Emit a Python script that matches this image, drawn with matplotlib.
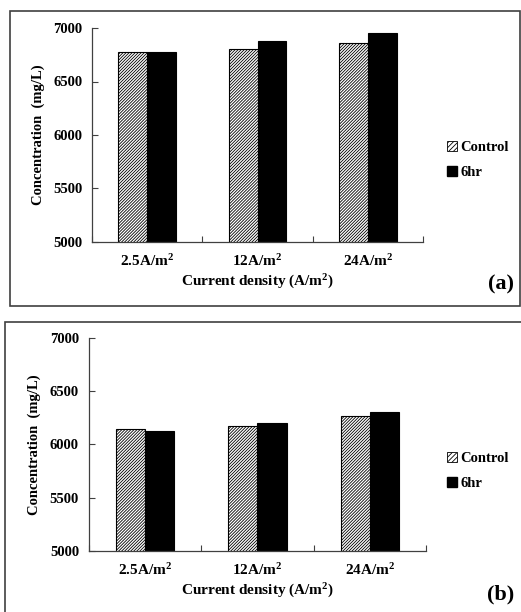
import matplotlib
matplotlib.use("Agg")
import matplotlib.pyplot as plt
from matplotlib.patches import Rectangle, Patch
import numpy as np

categories = ["2.5A/m$^\\mathbf{2}$", "12A/m$^\\mathbf{2}$", "24A/m$^\\mathbf{2}$"]
control_a = [6772, 6800, 6857]
hr6_a = [6772, 6876, 6950]
control_b = [6145, 6175, 6268]
hr6_b = [6125, 6196, 6300]
series_names = ["Control", "6hr"]
yticks = [5000, 5500, 6000, 6500, 7000]

plt.rcParams['font.family'] = ['Liberation Serif', 'DejaVu Serif']
plt.rcParams['font.weight'] = 'bold'
plt.rcParams['mathtext.fontset'] = 'custom'
plt.rcParams['mathtext.rm'] = 'Liberation Serif:bold'
plt.rcParams['mathtext.bf'] = 'Liberation Serif:bold'
plt.rcParams['mathtext.it'] = 'Liberation Serif:bold'
plt.rcParams['hatch.linewidth'] = 0.6

W, H = 521, 612
fig = plt.figure(figsize=(W / 100, H / 100), dpi=100)

def px_rect(x0, y0, x1, y1):
    return [x0 / W, 1 - y1 / H, (x1 - x0) / W, (y1 - y0) / H]

# outer frames
for (x0, y0, x1, y1) in [(9.5, 11, 519.5, 306), (5, 322, 530, 620)]:
    fig.patches.append(Rectangle((x0 / W, 1 - y1 / H), (x1 - x0) / W, (y1 - y0) / H,
                                 transform=fig.transFigure, fill=False,
                                 edgecolor='#404040', linewidth=1.2))

HATCH = '/' * 11

def panel(ax_rect, control, hr6, label, leg_y, label_y):
    ax = fig.add_axes(ax_rect)
    x = np.arange(len(categories))
    bw = 0.26
    ax.bar(x - bw / 2, control, bw, facecolor='white', edgecolor='black',
           hatch=HATCH, linewidth=0.8, label=series_names[0])
    ax.bar(x + bw / 2, hr6, bw, color='black', edgecolor='black', linewidth=0.8,
           label=series_names[1])
    ax.set_ylim(5000, 7000)
    ax.set_xlim(-0.5, len(categories) - 0.5)
    ax.set_yticks(yticks)
    ax.set_yticklabels([str(v) for v in yticks], fontsize=10.5, fontweight='bold')
    ax.set_xticks(x)
    ax.set_xticklabels(categories, fontsize=11, fontweight='bold')
    ax.set_xticks(np.arange(len(categories) + 1) - 0.5, minor=True)
    ax.tick_params(axis='x', which='major', length=0, pad=8)
    ax.tick_params(axis='x', which='minor', direction='in', length=4, width=0.8, color='#404040')
    ax.tick_params(axis='y', direction='in', length=4, width=0.8, color='#404040', pad=7)
    for s in ['top', 'right']:
        ax.spines[s].set_visible(False)
    for s in ['left', 'bottom']:
        ax.spines[s].set_color('#404040')
        ax.spines[s].set_linewidth(0.9)
    ax.set_ylabel("Concentration  (mg/L)", fontsize=10.5, fontweight='bold', labelpad=6)
    ax.set_xlabel("Current density (A/m$^\\mathbf{2}$)", fontsize=11, fontweight='bold', labelpad=3)
    handles = [Patch(facecolor='white', edgecolor='black', hatch='/' * 7, linewidth=0.6),
               Patch(facecolor='black', edgecolor='black')]
    fig.legend(handles, series_names, loc='center left',
               bbox_to_anchor=(434 / W, 1 - leg_y / H), frameon=False,
               handlelength=0.7, handleheight=0.7, handletextpad=0.2,
               labelspacing=0.85, prop={'family': 'Liberation Serif', 'weight': 'bold', 'size': 10.5})
    fig.text(514 / W, 1 - label_y / H, label, fontsize=16, fontweight='bold',
             ha='right', va='center')
    return ax

panel(px_rect(92, 28, 423, 242), control_a, hr6_a, "(a)", 160, 284)
panel(px_rect(88.7, 337.7, 426, 551), control_b, hr6_b, "(b)", 471, 594)

fig.savefig("out.png", dpi=100)
